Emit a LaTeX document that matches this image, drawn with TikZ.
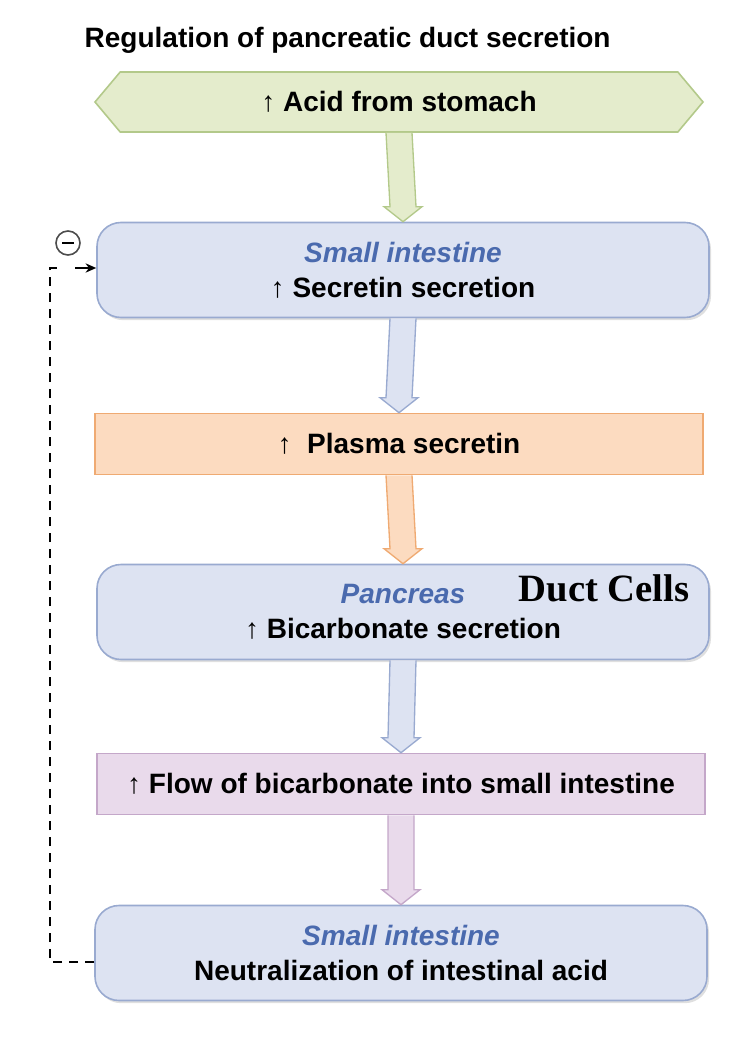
\documentclass[tikz,border=0pt]{standalone}
\usepackage{fontspec}
\setmainfont{Liberation Sans}
\usetikzlibrary{shapes.misc,shapes.symbols,calc,shadows,arrows.meta}
\definecolor{gfill}{HTML}{E4ECCC}\definecolor{gdraw}{HTML}{B3C98A}
\definecolor{bfill}{HTML}{DDE3F2}\definecolor{bdraw}{HTML}{99AAD0}
\definecolor{ofill}{HTML}{FCDBC0}\definecolor{odraw}{HTML}{EFAA72}
\definecolor{pfill}{HTML}{E9DAEB}\definecolor{pdraw}{HTML}{C4A7C9}
\definecolor{itblue}{HTML}{4A6AAE}
\newcommand{\up}{{\mdseries\char"2191}}
\begin{document}
\begin{tikzpicture}[x=0.75pt,y=-0.75pt,
  txt/.style={font=\fontsize{21}{26}\selectfont\bfseries},
  rbox/.style={draw=bdraw,fill=bfill,line width=1.2pt,rounded corners=18pt,minimum width=612*0.75pt,minimum height=95*0.75pt,align=center,txt,drop shadow={shadow xshift=1.5pt,shadow yshift=-2pt,opacity=0.25}},
  sbox/.style={line width=1.2pt,minimum width=608*0.75pt,minimum height=61*0.75pt,align=center,txt}]
\useasboundingbox (0,0) rectangle (752,1038);
\node[txt,anchor=west] (title) at (80,40) {Regulation of pancreatic duct secretion};
\node[draw=gdraw,fill=gfill,line width=1.2pt,signal,signal to=west and east,signal pointer angle=100,minimum width=608*0.75pt,minimum height=60*0.75pt,txt,inner sep=0pt] (acid) at (399,102) {\up\ Acid from stomach};
\node[rbox] (si1) at (403,270) {\textcolor{itblue}{\itshape Small intestine}\\\up\ Secretin secretion};
\node[sbox,draw=odraw,fill=ofill] (plasma) at (399,444) {\up\ \ Plasma secretin};
\node[rbox] (panc) at (403,612) {\textcolor{itblue}{\itshape Pancreas}\\\up\ Bicarbonate secretion};
\node[font=\fontsize{29}{32}\selectfont\bfseries\fontspec{Liberation Serif}] (duct) at (604,588) {Duct Cells};
\node[sbox,draw=pdraw,fill=pfill] (flow) at (401,784) {\up\ Flow of bicarbonate into small intestine};
\node[rbox] (si2) at (401,953) {\textcolor{itblue}{\itshape Small intestine}\\Neutralization of intestinal acid};
\newcommand{\blockarr}[4]{%
  \draw[draw=#4,fill=#3,line width=1pt]
   ($(#1.south)+(-13,0)$) -- ($(#2.north)+(-13,-15)$) -- ($(#2.north)+(-19,-15)$) -- (#2.north)
   -- ($(#2.north)+(19,-15)$) -- ($(#2.north)+(13,-15)$) -- ($(#1.south)+(13,0)$);}
\blockarr{acid}{si1}{gfill}{gdraw}
\blockarr{si1}{plasma}{bfill}{bdraw}
\blockarr{plasma}{panc}{ofill}{odraw}
\blockarr{panc}{flow}{bfill}{bdraw}
\blockarr{flow}{si2}{pfill}{pdraw}
\coordinate (c1) at (50,962);
\coordinate (c2) at (50,268);
\draw[line width=1pt,dash pattern=on 7pt off 5pt] (si2.west|-c1) -- (c1) -- (c2) -- ($(c2)+(12,0)$);
\draw[-{Stealth[length=8pt,width=7pt]},line width=1pt] ($(c2)+(25,0)$) -- (si1.west|-c2);
\node[circle,draw=black!70,line width=1.2pt,minimum size=18pt,inner sep=0pt] (minus) at (68,243) {};
\draw[line width=2pt] ($(minus.center)+(-6,0)$) -- ($(minus.center)+(6,0)$);
\end{tikzpicture}
\end{document}
